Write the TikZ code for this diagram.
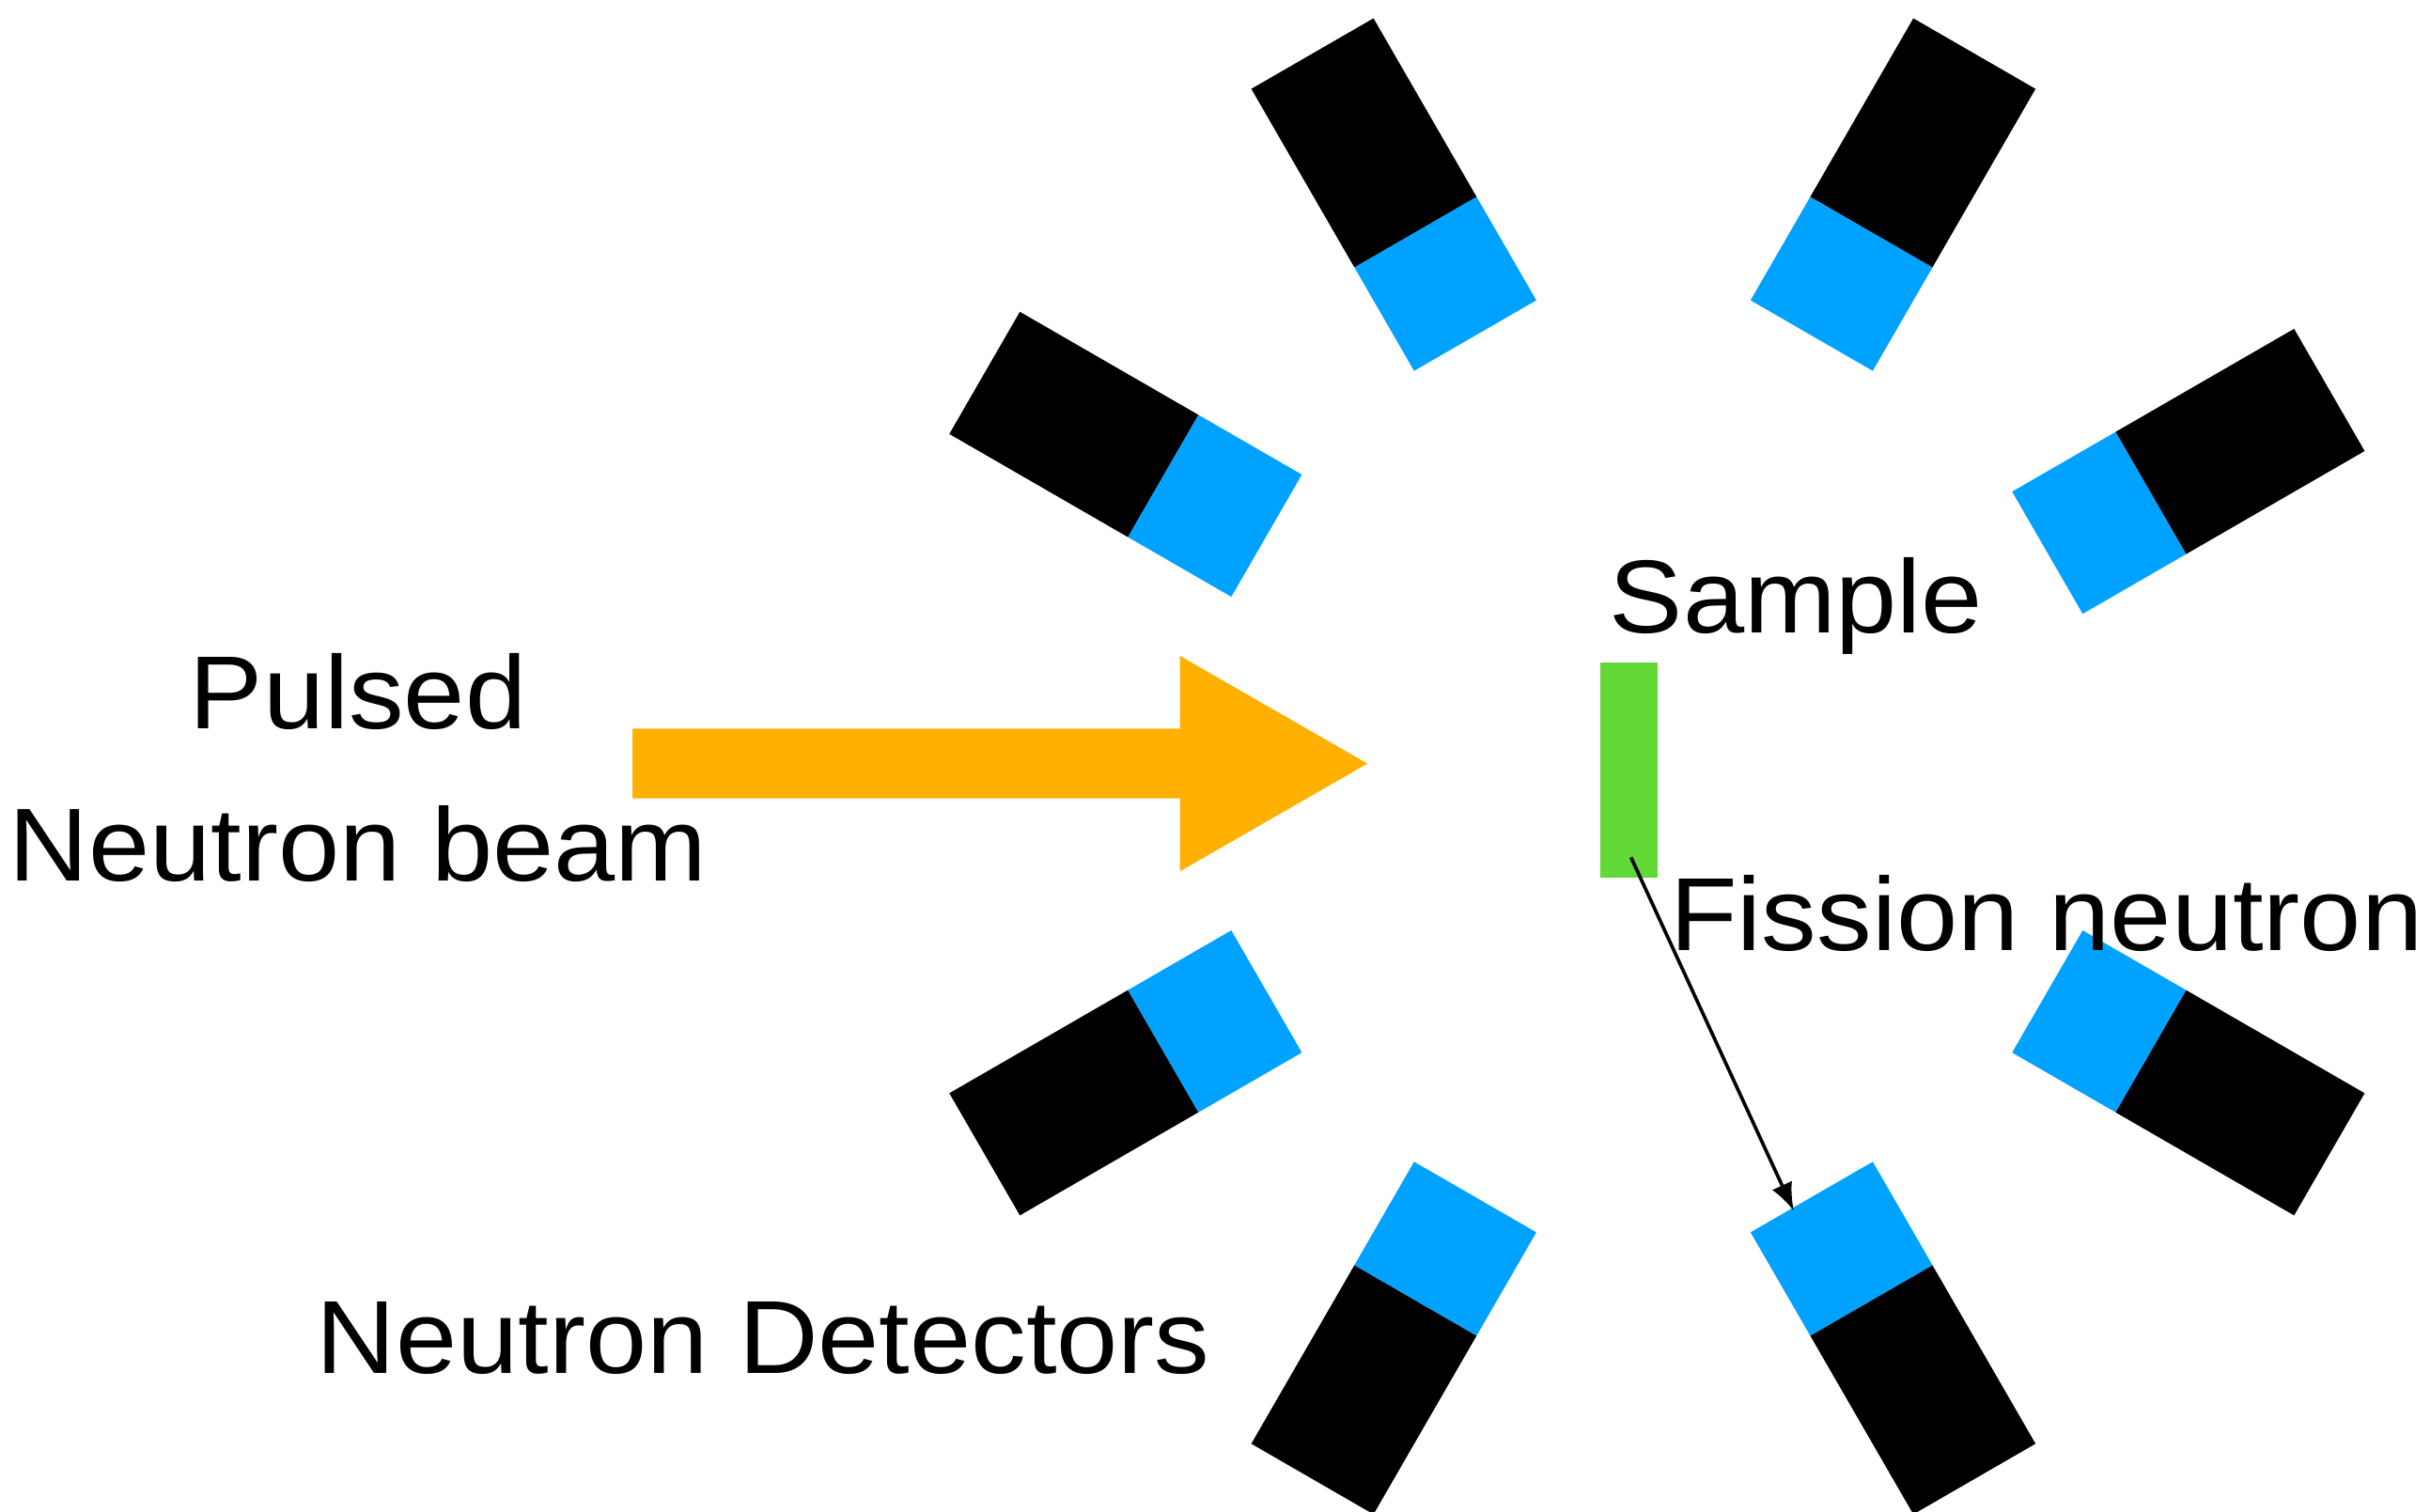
\documentclass[tikz,border=0pt]{standalone}
\usepackage{fontspec}
\setmainfont{Liberation Sans}[FakeStretch=1.06]
\usepackage{xcolor}
\usetikzlibrary{arrows.meta}

\definecolor{detblue}{RGB}{0,162,255}
\definecolor{beamorange}{RGB}{255,176,0}
\definecolor{samplegreen}{RGB}{98,217,54}

\tikzset{
  label text/.style={anchor=base west,inner sep=0pt,font=\fontsize{67}{98}\selectfont},
}

% one detector: black body, blue face towards the sample
\newcommand{\detector}[2]{%
  \begin{scope}[shift={#1},rotate=#2]
    \fill[black] (-105,-45.5) rectangle (28,45.5);
    \fill[detblue] (28,-45.5) rectangle (105,45.5);
  \end{scope}}

\begin{document}
\begin{tikzpicture}[x=1pt,y=-1pt]
\useasboundingbox (0,0) rectangle (1568,975);

%Detectors
\detector{(899,125.5)}{-60}
\detector{(1221,125.5)}{-120}
\detector{(726,293)}{-30}
\detector{(1411.5,304)}{-150}
\detector{(726,692)}{30}
\detector{(1411.5,692)}{150}
\detector{(899,863)}{60}
\detector{(1221,863)}{120}

%Beam arrow
\fill[beamorange] (408,470) -- (761,470) -- (761,423) -- (882,492.5) -- (761,562) -- (761,515) -- (408,515) -- cycle;

%Sample
\node (sample) [fill=samplegreen,minimum width=37pt,minimum height=139pt,inner sep=0pt] at (1050.5,496.5) {};

%Fission neutron path
\coordinate (fstart) at (1052,553);
\coordinate (hit) at (1157,781);
\draw [line width=2.2pt,-{Latex[length=18pt,width=14pt]}] (fstart) -- (hit);

% Text Node
\node (beamlabel) [anchor=base,inner sep=0pt,align=center,font=\fontsize{67}{98}\selectfont] at (231,568) {Pulsed\\Neutron beam};
% Text Node
\node (samplelabel) [label text] at (1038,408) {Sample};
% Text Node
\node (fissionlabel) [label text] at (1077,613) {Fission neutron};
% Text Node
\node (detlabel) [label text] at (204,886) {Neutron Detectors};

\end{tikzpicture}
\end{document}
